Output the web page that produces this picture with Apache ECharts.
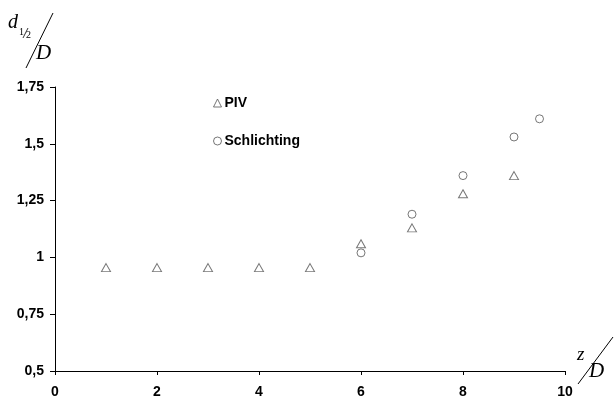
<!DOCTYPE html>
<html><head><meta charset="utf-8">
<script src="https://cdn.jsdelivr.net/npm/echarts@6/dist/echarts.min.js"></script>
<style>html,body{margin:0;padding:0;background:#fff}#c{width:614px;height:403px}</style>
</head><body><div id="c"></div>
<script>
const pivX = [1, 2, 3, 4, 5, 6, 7, 8, 9];
const pivY = [0.955, 0.955, 0.955, 0.955, 0.955, 1.06, 1.13, 1.28, 1.36];
const schX = [6, 7, 8, 9, 9.5];
const schY = [1.02, 1.19, 1.36, 1.53, 1.61];
const xTicks = [0, 2, 4, 6, 8, 10];
const yTicks = [0.5, 0.75, 1, 1.25, 1.5, 1.75];

const chart = echarts.init(document.getElementById('c'), null, {renderer: 'canvas'});
const lab = {fontFamily: 'Liberation Sans, Arial', fontWeight: 'bold', fontSize: 14, color: '#000'};
const mk = {color: '#fff', borderColor: '#555', borderWidth: 1};
const serif = 'Liberation Serif, Times New Roman, serif';
chart.setOption({
  animation: false,
  backgroundColor: '#fff',
  grid: {left: 55, right: 49, top: 87, bottom: 32},
  xAxis: {
    type: 'value', min: 0, max: 10, interval: 2,
    axisLine: {show: true, lineStyle: {color: '#000', width: 1}},
    axisTick: {show: true, length: 4, lineStyle: {color: '#000'}},
    splitLine: {show: false},
    axisLabel: Object.assign({margin: 14, formatter: v => xTicks.includes(v) ? String(v) : ''}, lab)
  },
  yAxis: {
    type: 'value', min: 0.5, max: 1.75, interval: 0.25,
    axisLine: {show: true, lineStyle: {color: '#000', width: 1}},
    axisTick: {show: true, length: 5, lineStyle: {color: '#000'}},
    splitLine: {show: false},
    axisLabel: Object.assign({margin: 11, formatter: v => yTicks.includes(v) ? String(v).replace('.', ',') : ''}, lab)
  },
  legend: {
    orient: 'vertical', left: 208, top: 91, itemGap: 24, itemWidth: 8, itemHeight: 8,
    itemStyle: {color: '#fff', borderColor: '#555', borderWidth: 1},
    textStyle: {fontFamily: 'Liberation Sans, Arial', fontWeight: 'bold', fontSize: 14, color: '#000', padding: [0,0,0,-2]},
    data: [{name: 'PIV', icon: 'triangle'}, {name: 'Schlichting', icon: 'circle'}]
  },
  series: [
    {name: 'PIV', type: 'scatter', symbol: 'triangle', symbolSize: [9, 8], itemStyle: mk,
     data: pivX.map((x, i) => [x, pivY[i]])},
    {name: 'Schlichting', type: 'scatter', symbol: 'circle', symbolSize: 8, itemStyle: mk,
     data: schX.map((x, i) => [x, schY[i]])}
  ],
  graphic: [
    {type: 'text', style: {x: 8, y: 13, text: 'd', font: 'italic 20px ' + serif, fill: '#000', align: 'left', verticalAlign: 'top'}},
    {type: 'text', style: {x: 19, y: 27, text: '1', font: '10px ' + serif, fill: '#000', align: 'left', verticalAlign: 'top'}},
    {type: 'line', shape: {x1: 28, y1: 28, x2: 23, y2: 38}, style: {stroke: '#000', lineWidth: 0.8}},
    {type: 'text', style: {x: 26, y: 30, text: '2', font: '10px ' + serif, fill: '#000', align: 'left', verticalAlign: 'top'}},
    {type: 'line', shape: {x1: 53, y1: 13, x2: 26, y2: 68}, style: {stroke: '#000', lineWidth: 1}},
    {type: 'text', style: {x: 36, y: 43, text: 'D', font: 'italic 21px ' + serif, fill: '#000', align: 'left', verticalAlign: 'top'}},
    {type: 'text', style: {x: 577, y: 345, text: 'z', font: 'italic 19px ' + serif, fill: '#000', align: 'left', verticalAlign: 'top'}},
    {type: 'line', shape: {x1: 613, y1: 337, x2: 578, y2: 384}, style: {stroke: '#000', lineWidth: 1}},
    {type: 'text', style: {x: 589, y: 361, text: 'D', font: 'italic 21px ' + serif, fill: '#000', align: 'left', verticalAlign: 'top'}}
  ]
});
</script></body></html>
